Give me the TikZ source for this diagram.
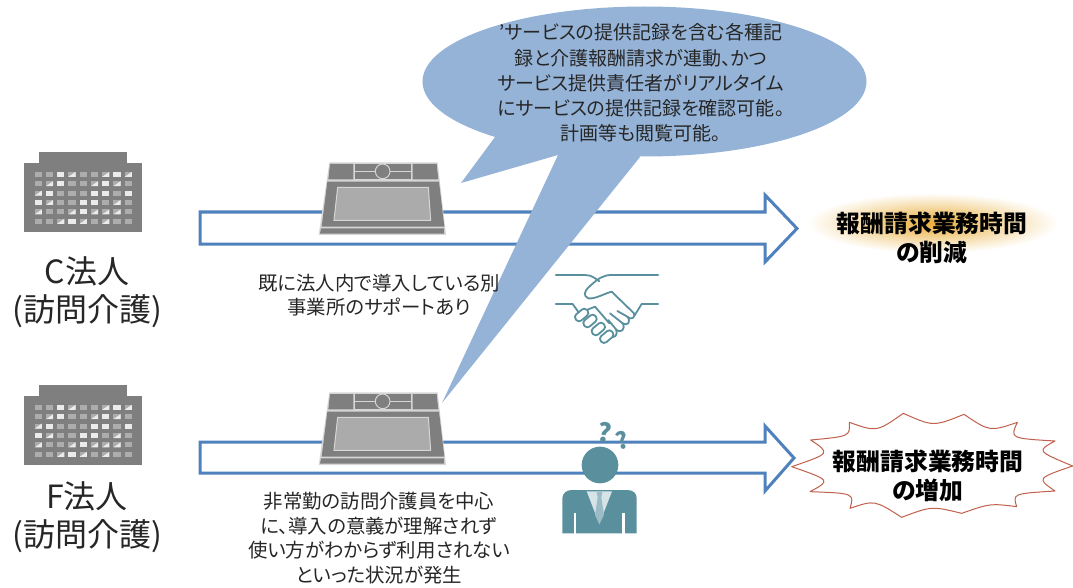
\documentclass[tikz,border=0pt]{standalone}
\usepackage{fontspec}
\setmainfont{Noto Sans CJK JP}[RawFeature=+palt]
\usetikzlibrary{shapes.geometric}
\definecolor{arrowblue}{HTML}{4F81BD}
\definecolor{calloutblue}{HTML}{95B3D7}
\definecolor{teal2}{HTML}{5A909E}
\definecolor{burstred}{HTML}{C0604D}
\definecolor{glow}{HTML}{E9AE3A}
\definecolor{darkgray2}{HTML}{7F7F7F}
\definecolor{lightgray2}{HTML}{D6D6D6}
\tikzset{
  bigarrow/.style={draw=arrowblue,line width=3pt,fill=white,miter limit=10},
  label1/.style={align=center,inner sep=0pt,font=\fontsize{32}{38}\selectfont,text=black!85},
  label2/.style={align=center,inner sep=0pt,font=\fontsize{19.4}{24.6}\selectfont,text=black!85},
  calloutlabel/.style={align=center,inner sep=0pt,font=\fontsize{19}{25.2}\selectfont,text=black!85},
  resultlabel/.style={align=center,inner sep=0pt,font=\fontsize{23.8}{28.5}\selectfont\bfseries,text=black},
  tabletline/.style={draw=lightgray2,line width=1pt},
  shakeline/.style={draw=teal2,line width=1.8pt,line cap=round,line join=round},
  officeblock/.pic={
    \fill[darkgray2] (15,0) rectangle (103,12);
    \fill[darkgray2] (0,11) rectangle (118,80);
    \foreach \row [count=\j] in {{0,0,1,2,0,0,2,1,2},{0,2,1,0,0,2,1,2,0},{2,1,0,0,0,1,1,0,1},{1,2,0,0,1,1,0,2,0},{2,0,0,2,1,2,2,2,0},{0,0,2,1,2,0,2,0,0}}{
      \foreach \t [count=\i] in \row {
        \pgfmathsetmacro{\cx}{14.3+11.25*(\i-1)}
        \pgfmathsetmacro{\cy}{22.3+9.4*(\j-1)}
        \ifnum\t=1
          \fill[black!8] (\cx-3.6,\cy-2.5) rectangle (\cx+3.6,\cy+2.5);
        \else
          \fill[black!32] (\cx-3.6,\cy-2.5) rectangle (\cx+3.6,\cy+2.5);
        \fi
        \ifnum\t=2
          \fill[black!8] (\cx+3.6,\cy-2.5) -- (\cx+3.6,\cy+2.5) -- (\cx-3.6,\cy+2.5) -- cycle;
        \fi
      }
    }
  },
  tablet/.pic={
    \fill[lightgray2] (58,22) -- (383,22) -- (408,240) -- (26,240) -- cycle;
    \fill[darkgray2] (60,27) -- (130,27) -- (130,73) -- (55,73) -- cycle;
    \fill[darkgray2] (308,27) -- (380,27) -- (385,73) -- (308,73) -- cycle;
    \fill[darkgray2] (135,27) rectangle (303,73);
    \draw[tabletline] (135,50) -- (303,50);
    \draw[tabletline,fill=darkgray2] (218,49) circle (22);
    \fill[darkgray2] (52,80) -- (387,80) -- (403,215) -- (35,215) -- cycle;
    \draw[tabletline,fill=black!33] (83,97) -- (355,97) -- (362,196) -- (72,196) -- cycle;
    \fill[darkgray2] (33,220) -- (402,220) -- (402,236) -- (30,236) -- cycle;
  },
}
\begin{document}
\begin{tikzpicture}[x=1pt,y=-1pt]
\useasboundingbox (0,0) rectangle (1073,588);
% arrows
\draw[bigarrow] (200,212) -- (765,212) -- (765,195) -- (797,228.5) -- (765,262) -- (765,244) -- (200,244) -- cycle;
\draw[bigarrow] (200,442) -- (765,442) -- (765,426) -- (794,458) -- (765,491) -- (765,473) -- (200,473) -- cycle;
% buildings
\pic at (24,152) {officeblock};
\pic at (24,385) {officeblock};
% tablets
\pic[scale=1/3] at (310,155) {tablet};
\pic[scale=1/3] at (310,385) {tablet};
% callout
\node[ellipse,fill=calloutblue,inner sep=0pt,minimum width=444pt,minimum height=150pt] (bubble) at (644.5,81.5) {};
\fill[calloutblue] (495,137) -- (461,183) -- (558,155) -- (442,403) -- (640,157) -- (600,100) -- cycle;
\node[calloutlabel] (bubbletext) at (641,83) {'サービスの提供記録を含む各種記\\録と介護報酬請求が連動、かつ\\サービス提供責任者がリアルタイム\\にサービスの提供記録を確認可能。\\計画等も閲覧可能。};
% labels
\node[label1] (corpc) at (87,292) {C法人\\(訪問介護)};
\node[label1] (corpf) at (87,517) {F法人\\(訪問介護)};
\node[label2] (notec) at (379,295) {既に法人内で導入している別\\事業所のサポートあり};
\node[label2] (notef) at (379,538) {非常勤の訪問介護員を中心\\に、導入の意義が理解されず\\使い方がわからず利用されない\\といった状況が発生};
% handshake
\begin{scope}[shift={(540,260)},scale=1/3]
\draw[shakeline] (47,45) -- (135,45) .. controls (155,45) and (165,55) .. (178,64);
\draw[shakeline] (355,45) -- (215,45) .. controls (190,45) and (175,55) .. (150,78) .. controls (130,95) and (130,108) .. (145,115) .. controls (165,118) and (195,100) .. (215,95) -- (282,160) .. controls (288,172) and (272,182) .. (262,170) -- (232,153);
\draw[shakeline] (47,132) -- (98,132) -- (118,160);
\draw[shakeline] (355,132) -- (305,132) -- (284,166);
\draw[shakeline] (262,170) .. controls (275,185) and (262,200) .. (248,190) -- (210,160);
\draw[shakeline] (248,190) .. controls (258,208) and (242,222) .. (228,208) -- (205,180);
\draw[shakeline] (228,208) .. controls (236,225) and (222,238) .. (208,228);
\draw[shakeline] (135,152) -- (165,140) -- (208,190);
\foreach \cx/\cy in {125/165,150/183,175/207,200/230}{
  \draw[shakeline,fill=white,rounded corners=3.5pt,rotate around={40:(\cx,\cy)}] (\cx-22,\cy-12) rectangle (\cx+22,\cy+12);
}
\end{scope}
% person
\begin{scope}[shift={(540,410)},scale=1/3]
\fill[teal2] (180,165) circle (55);
\fill[teal2] (67,370) -- (67,265) .. controls (67,250) and (80,240) .. (95,240) -- (262,240) .. controls (280,240) and (290,250) .. (290,265) -- (290,370) -- cycle;
\fill[white] (101,310) rectangle (109,372);
\fill[white] (246,310) rectangle (254,372);
\fill[teal2!25] (140,244) -- (216,244) -- (178,342) -- cycle;
\fill[teal2!60] (170,246) -- (187,246) -- (184,262) -- (192,315) -- (178,342) -- (165,315) -- (173,262) -- cycle;
\node[text=teal2,inner sep=0pt,font=\fontsize{26}{26}\selectfont\bfseries,rotate=-8] (q1) at (195,68) {?};
\node[text=teal2,inner sep=0pt,font=\fontsize{23}{23}\selectfont\bfseries,rotate=15] (q2) at (245,92) {?};
\end{scope}
% results
\shade[inner color=glow,outer color=white] (933,223) ellipse [x radius=125,y radius=30];
\node[resultlabel] (resc) at (932,238) {報酬請求業務時間\\の削減};
\begin{scope}[shift={(760,400)},scale=1/3]
\draw[draw=burstred,line width=1pt,fill=white,line join=round]
 (95,200) .. controls (212,160) .. (152,120) .. controls (270,109) .. (268,67) .. controls (350,96) .. (430,40) .. controls (520,80) .. (612,43) .. controls (689,95) .. (772,67) .. controls (750,115) .. (885,123) .. controls (830,153) .. (938,198) .. controls (830,235) .. (885,273) .. controls (758,281) .. (770,320) .. controls (691,310) .. (605,340) .. controls (515,318) .. (425,352) .. controls (344,300) .. (270,325) .. controls (283,280) .. (150,275) .. controls (213,241) .. cycle;
\end{scope}
\node[resultlabel] (resf) at (928,476) {報酬請求業務時間\\の増加};
\end{tikzpicture}
\end{document}
